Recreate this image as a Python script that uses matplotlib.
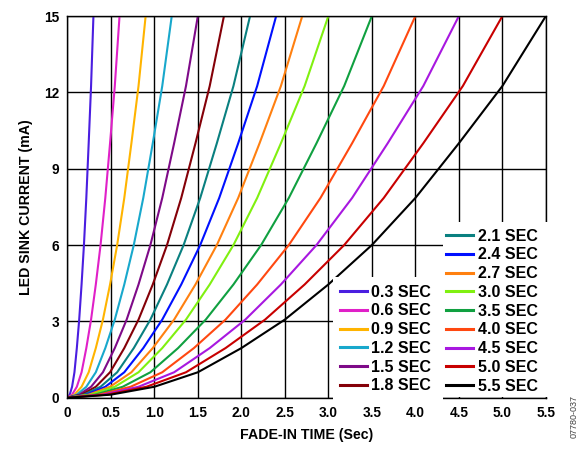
import numpy as np
import matplotlib
matplotlib.use('Agg')
import matplotlib.pyplot as plt
from matplotlib.patches import Rectangle

plt.rcParams['font.family'] = ['Liberation Sans', 'DejaVu Sans']
plt.rcParams['font.weight'] = 'bold'

# fade-in time setting of each curve (sec)
fade = [0.3, 0.6, 0.9, 1.2, 1.5, 1.8, 2.1, 2.4, 2.7, 3.0, 3.5, 4.0, 4.5, 5.0, 5.5]
colors = ['#4a1ee0', '#e020c8', '#ffb400', '#18a8cc', '#7e0a88', '#840008',
          '#0a8080', '#0010ff', '#ff8010', '#80f010', '#10a040', '#ff4810',
          '#a818e0', '#c80000', '#000000']
# current, at every 1/11 of the fade time
frac = [0, 1, 2, 3, 4, 5, 6, 7, 8, 9, 10, 11]
current = [0, 0.12, 0.43, 1.0, 1.95, 3.07, 4.45, 6.0, 7.85, 10.0, 12.25, 15.0]

fig = plt.figure(figsize=(5.87, 4.5), dpi=100)
ax = fig.add_axes([0.1147, 0.1162, 0.8153, 0.8482])

lines = []
for T, c in zip(fade, colors):
    t = np.array(frac) / 11.0 * T
    l, = ax.plot(t, current, color=c, lw=1.5, label='%.1f SEC' % T, zorder=2)
    lines.append(l)

ax.set_xlim(0, 5.5)
ax.set_ylim(0, 15)
ax.set_xticks(np.arange(0, 5.51, 0.5))
ax.set_xticklabels(['0'] + ['%.1f' % v for v in np.arange(0.5, 5.51, 0.5)])
ax.set_yticks([0, 3, 6, 9, 12, 15])
ax.tick_params(length=0, labelsize=9.8, pad=6)
ax.grid(True, color='black', lw=1.0, zorder=1)
ax.set_axisbelow(True)
for s in ax.spines.values():
    s.set_linewidth(1.0)

ax.set_xlabel('FADE-IN TIME (Sec)', fontsize=10.2, fontweight='bold', labelpad=6)
ax.set_ylabel('LED SINK CURRENT (mA)', fontsize=10.2, fontweight='bold', labelpad=8)

# white boxes behind the legends
ax.add_patch(Rectangle((0.555, -0.012), 0.23, 0.328, transform=ax.transAxes,
                       facecolor='white', edgecolor='none', zorder=3, clip_on=False))
ax.add_patch(Rectangle((0.785, 0.003), 0.22, 0.457, transform=ax.transAxes,
                       facecolor='white', edgecolor='none', zorder=3, clip_on=False))

kw = dict(frameon=False, fontsize=11.5, handlelength=1.7, handletextpad=0.28,
          labelspacing=0.235, borderpad=0, borderaxespad=0)
leg1 = ax.legend(handles=lines[:6], loc='upper left',
                 bbox_to_anchor=(0.569, 0.296), **kw)
for lh in leg1.get_lines():
    lh.set_linewidth(2.2)
ax.add_artist(leg1)
leg2 = ax.legend(handles=lines[6:], loc='upper left',
                 bbox_to_anchor=(0.791, 0.443), **kw)
for lh in leg2.get_lines():
    lh.set_linewidth(2.2)

fig.text(0.978, 0.075, '07780-037', rotation=90, fontsize=6.5,
         fontweight='normal', color='#404040', ha='center', va='center')

fig.savefig('out.png', dpi=100)
